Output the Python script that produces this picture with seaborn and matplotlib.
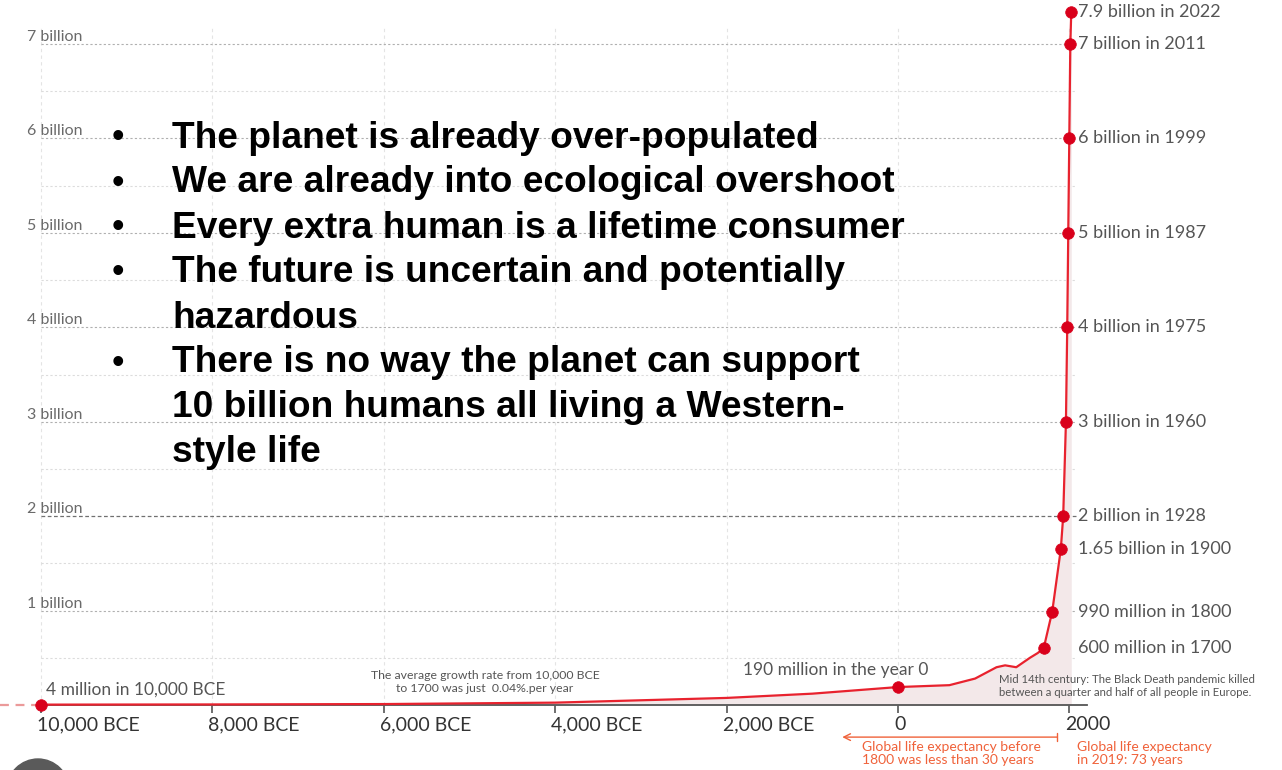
import numpy as np
import matplotlib
matplotlib.use("Agg")
import matplotlib.pyplot as plt
from matplotlib.patches import Ellipse
from matplotlib.transforms import ScaledTranslation
import seaborn as sns

# World population curve (year, billions)
years = [-10000, -8000, -6000, -4000, -2000, -1000, 0, 600, 900, 1150, 1250,
         1380, 1540, 1630, 1700, 1800, 1900, 1928, 1960, 1975, 1987, 1999, 2011, 2022]
population = [0.004, 0.006, 0.010, 0.025, 0.075, 0.12, 0.19, 0.21, 0.28, 0.40, 0.42,
              0.40, 0.50, 0.55, 0.60, 0.99, 1.65, 2.0, 3.0, 4.0, 5.0, 6.0, 7.0, 7.9]

# Milestones marked with a dot
milestone_years = [-10000, 0, 1700, 1800, 1900, 1928, 1960, 1975, 1987, 1999, 2011, 2022]
milestone_pop = [0.004, 0.19, 0.60, 0.99, 1.65, 2.0, 3.0, 4.0, 5.0, 6.0, 7.0, 7.9]

# Labels on the right for the milestones from 1700 on
right_labels = ["600 million in 1700", "990 million in 1800", "1.65 billion in 1900",
                "2 billion in 1928", "3 billion in 1960", "4 billion in 1975",
                "5 billion in 1987", "6 billion in 1999", "7 billion in 2011",
                "7.9 billion in 2022"]

xticks = [-10000, -8000, -6000, -4000, -2000, 0, 2000]
xtick_labels = ["10,000 BCE", "8,000 BCE", "6,000 BCE", "4,000 BCE", "2,000 BCE", "0", "2000"]
ytick_vals = [1, 2, 3, 4, 5, 6, 7]
ytick_labels = ["1 billion", "2 billion", "3 billion", "4 billion", "5 billion",
                "6 billion", "7 billion"]

bullets = [
    ("The planet is already over-populated", True),
    ("We are already into ecological overshoot", True),
    ("Every extra human is a lifetime consumer", True),
    ("The future is uncertain and potentially", True),
    ("hazardous", False),
    ("There is no way the planet can support", True),
    ("10 billion humans all living a Western-", False),
    ("style life", False),
]

RED = "#d9001b"
LINE = "#e8222e"
ORANGE = "#f0623a"

sns.set_theme(style="white")
plt.rcParams["font.family"] = ["Lato", "DejaVu Sans"]

fig = plt.figure(figsize=(12.82, 7.70), dpi=100)
ax = fig.add_axes([0, 65 / 770, 1, 705 / 770])

# top of the chart is squeezed above 7 billion, as in the original
k = 0.376
def fwd(v):
    v = np.asarray(v, dtype=float)
    return np.where(v <= 7, v, 7 + (v - 7) * k)
def inv(v):
    v = np.asarray(v, dtype=float)
    return np.where(v <= 7, v, 7 + (v - 7) / k)

# grid
half_vals = [v / 2 for v in range(1, 15) if v % 2 == 1]
ax.vlines(xticks, 0, 7.45, color="#e4e4e4", lw=0.8, linestyles=(0, (3, 3)), zorder=0)
ax.hlines(half_vals, -10000, 2070, color="#dcdcdc", lw=0.8, linestyles=(0, (2, 2)), zorder=0)
ax.hlines([v for v in ytick_vals if v != 2], -10000, 2070, color="#b0b0b0", lw=0.8,
          linestyles=(0, (2, 2)), zorder=0)
ax.hlines([2], -10000, 2090, color="#707070", lw=0.9, linestyles=(0, (3, 2)), zorder=0)

ax.fill_between(years, population, color="#f3e8e9", zorder=1, lw=0)
sns.lineplot(x=years, y=population, ax=ax, color=LINE, lw=1.6, zorder=3, clip_on=False)
ax.plot([-10478, years[0]], [population[0]] * 2, color="#eb9a9a", lw=1.6,
        ls=(0, (4, 3)), zorder=3, clip_on=False)
sns.scatterplot(x=milestone_years, y=milestone_pop, ax=ax, color=RED, s=70,
                edgecolor=RED, linewidth=0.5, zorder=4, clip_on=False)

ax.set_yscale("function", functions=(fwd, inv))
ax.set_xlim(-10478, 4481)
ax.set_ylim(0, 8.24)
ax.set_xlabel("")
ax.set_ylabel("")

for s in ["top", "right", "left"]:
    ax.spines[s].set_visible(False)
ax.spines["bottom"].set_bounds(-10000, 2200)
ax.spines["bottom"].set_color("#555555")
ax.spines["bottom"].set_linewidth(1.3)
ax.spines["bottom"].set_zorder(2)

ax.set_xticks(xticks, labels=xtick_labels)
ax.tick_params(axis="x", bottom=True, length=6, width=1.2, color="#555555",
               labelsize=14, labelcolor="#333333", pad=2)
shift = ScaledTranslation(-4 / 100, 0, fig.dpi_scale_trans)
for t in ax.get_xticklabels():
    t.set_ha("left")
    t.set_transform(t.get_transform() + shift)

ax.set_yticks(ytick_vals, labels=ytick_labels)
ax.tick_params(axis="y", left=False, length=0, pad=-19.5, labelsize=11.5, labelcolor="#6a6a6a")
for t in ax.get_yticklabels():
    t.set_ha("left")
    t.set_va("bottom")

# right side milestone labels
for lab, v in zip(right_labels, milestone_pop[2:]):
    ax.text(2100, v, lab, fontsize=13, color="#555555", va="center", ha="left")

ax.annotate("4 million in 10,000 BCE", xy=(milestone_years[0], milestone_pop[0]),
            xytext=(3.5, 11), textcoords="offset points", fontsize=12.5,
            color="#555555", va="center", ha="left")
ax.annotate("190 million in the year 0", xy=(milestone_years[1], milestone_pop[1]),
            xytext=(-45, 12), textcoords="offset points", fontsize=12.5,
            color="#555555", va="center", ha="center")
ax.text(-4820, 0.245, "The average growth rate from 10,000 BCE\nto 1700 was just  0.04%.per year",
        fontsize=8.8, color="#555555", ha="center", va="center", linespacing=1.15)
ax.text(1180, 0.2, "Mid 14th century: The Black Death pandemic killed\n"
        "between a quarter and half of all people in Europe.",
        fontsize=8.2, color="#555555", ha="left", va="center", linespacing=1.15)

# life expectancy notes under the axis
ax.annotate("", xy=(1855, -0.34), xytext=(-650, -0.34),
            arrowprops=dict(arrowstyle="<-[, widthB=0.25, lengthB=0", color=ORANGE,
                            lw=1.0, shrinkA=0, shrinkB=0), annotation_clip=False)
ax.text(-420, -0.51, "Global life expectancy before\n1800 was less than 30 years",
        fontsize=10, color=ORANGE, ha="left", va="center", linespacing=1.1, clip_on=False)
ax.text(2085, -0.51, "Global life expectancy\nin 2019: 73 years",
        fontsize=10, color=ORANGE, ha="left", va="center", linespacing=1.1, clip_on=False)

# slide text over the chart
for i, (line, has_bullet) in enumerate(bullets):
    y = 1 - (138 + 45 * i) / 770
    if has_bullet:
        fig.text(112 / 1282, y, "\u2022", fontsize=26, color="black",
                 va="center", ha="left", family=["Liberation Sans", "DejaVu Sans"])
    fig.text(172 / 1282, y, line, fontsize=26.7, weight="bold", color="black", va="center",
             ha="left", family=["Liberation Sans", "DejaVu Sans"])

# grey slide button in the corner
fig.add_artist(Ellipse((38 / 1282, -20 / 770), 62 / 1282, 62 / 770, color="#5a5a5a"))

fig.savefig("out.png", dpi=100)
